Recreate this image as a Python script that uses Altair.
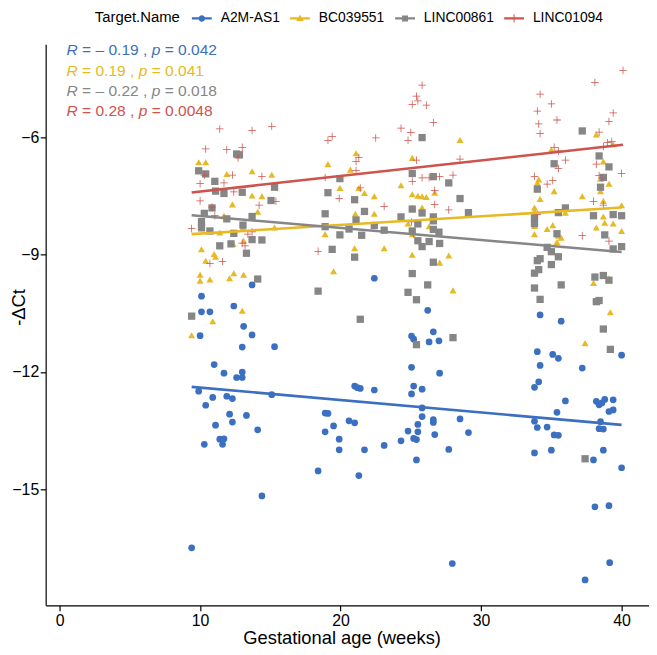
import altair as alt
import pandas as pd

targets = ["A2M-AS1", "BC039551", "LINC00861", "LINC01094"]
colors = ["#3B6FBF", "#E7B923", "#868686", "#CD534C"]

# ---- A2M-AS1 (blue circles)
a2m_x = [10.1, 10.1, 10.7, 12.4, 10.0, 11.0, 11.7, 12.6, 9.9, 10.9, 11.9, 12.3, 10.4, 12.1, 12.3, 11.1, 11.4, 11.7, 11.6, 10.3, 9.4,
         13.7, 22.4, 13.1, 13.7, 13.0, 15.3, 13.0, 13.0, 15.1, 13.3, 14.1, 14.4,
         21.0, 21.2, 21.4, 22.4, 18.9, 19.1, 20.6, 21.0, 19.5, 18.9, 19.9, 19.9, 21.7, 23.1, 18.4, 21.3,
         25.05, 25.2, 26.2, 26.6, 26.3, 25.05, 25.2, 25.8, 25.05, 25.8, 25.8, 26.6, 26.6, 25.5, 24.8, 25.5, 26.7, 25.2, 25.4, 24.3, 25.4, 27.95,
         27.0, 27.05, 28.5, 29.1, 27.7, 34.2, 35.7, 34.0, 35.1, 35.5, 34.2, 37.2, 40.0, 34.1, 33.8, 36.0, 35.4, 38.2, 38.4, 38.6, 38.8, 39.4,
         39.1, 39.4, 33.8, 34.0, 34.7, 35.2, 35.5, 38.5, 38.4, 38.7, 33.8, 35.0, 38.0, 38.7, 40.0, 38.1, 39.1, 39.15, 37.4]
a2m_y = [-10.06, -10.46, -10.46, -10.31, -11.07, -11.81, -12.03, -12.14, -12.49, -12.65, -12.62, -12.68, -12.85, -13.08, -13.28, -13.36, -13.72, -13.71, -13.85, -13.85, -16.5,
         -9.77, -9.6, -10.83, -11.05, -11.36, -11.35, -12.0, -12.14, -12.58, -13.11, -13.48, -15.17,
         -12.36, -12.4, -12.42, -12.46, -13.05, -13.06, -13.25, -13.3, -13.38, -13.53, -13.72, -13.99, -13.99, -13.88, -14.53, -14.65,
         -11.08, -11.16, -10.42, -10.97, -11.23, -11.88, -12.36, -12.44, -12.56, -12.92, -13.14, -13.22, -13.29, -13.34, -13.51, -13.53, -13.6, -13.7, -13.73, -13.76, -14.25, -16.9,
         -11.2, -12.03, -13.2, -13.55, -13.98, -10.54, -10.7, -11.48, -11.55, -11.65, -11.83, -11.9, -11.57, -12.25, -12.39, -12.74, -13.03, -12.75, -12.84, -12.79, -12.7, -12.71,
         -13.01, -12.97, -13.26, -13.42, -13.41, -13.61, -13.62, -13.27, -13.45, -13.46, -14.07, -14.0, -14.25, -14.0, -14.45, -15.45, -15.42, -16.88, -17.32]

# ---- BC039551 (yellow triangles)
bc_x = [9.9, 10.4, 11.9, 12.3, 11.7, 11.4, 10.1, 12.35, 10.1, 11.0, 11.1, 10.4, 10.0, 10.7, 10.0, 12.4, 12.1,
        10.9, 9.4, 13.0,
        13.7, 15.1, 13.7, 14.4, 14.1, 13.05, 15.3, 13.1, 13.1, 19.1, 19.95, 21.1, 20.7, 21.3, 21.7, 22.4, 21.05, 22.4, 18.9, 21.0, 23.1, 19.5,
        24.3, 25.1, 25.1, 25.5, 25.8, 26.1, 25.1, 25.8, 24.8, 26.3, 25.1, 25.1, 26.7,
        28.5, 38.2, 39.4, 35.0, 38.7, 34.1, 34.0, 35.2, 38.5, 39.1, 34.2, 37.2, 38.5, 38.7, 33.8, 33.8, 40.0, 36.0, 36.0, 38.7, 39.4, 38.8,
        38.2, 40.0, 33.8, 33.8, 34.7, 35.1, 35.5, 35.7, 35.4, 27.7, 27.05,
        28.0, 38.0, 39.1, 39.2, 37.4]
bc_y = [-6.63, -6.63, -6.93, -7.71, -8.0, -8.43, -8.33, -8.72, -8.86, -8.98, -9.05, -9.15, -9.51, -9.63, -9.66, -9.47, -9.6,
        -10.7, -11.06, -10.43,
        -6.86, -6.95, -7.48, -7.5, -7.9, -8.3, -8.3, -8.64, -9.51, -6.68, -7.29, -6.4, -6.82, -7.29, -7.42, -7.5, -7.95, -7.95, -8.47, -8.83, -8.83, -9.42,
        -7.22, -6.52, -7.45, -7.49, -7.5, -7.52, -7.79, -7.79, -8.2, -8.27, -8.47, -9.0, -7.41,
        -6.06, -5.92, -6.17, -6.31, -6.61, -7.07, -7.16, -7.37, -7.05, -7.18, -7.57, -7.5, -7.37, -7.62, -7.79, -7.88, -7.73, -7.83, -7.92, -8.02, -8.2, -8.18,
        -8.3, -8.39, -8.26, -8.47, -8.34, -8.24, -8.51, -8.56, -8.67, -9.02, -9.2,
        -9.91, -9.72, -9.61, -10.47, -11.26]

# ---- LINC00861 (grey squares)
l861_x = [9.9, 10.4, 11.05, 11.1, 11.7, 12.6, 10.85, 10.3, 11.9, 10.1, 10.1, 10.7, 12.4, 11.4, 12.2, 9.4,
          18.4, 21.4, 26.2, 24.8, 25.4, 25.4,
          12.8, 13.0, 15.3, 15.05, 19.1, 19.95, 21.0, 21.7, 18.9, 13.7, 13.05, 13.7, 14.4, 13.3, 18.9, 19.95, 20.6, 21.5, 22.4, 23.1,
          21.1, 19.4, 21.0, 25.8, 25.1, 26.6, 24.3, 25.1, 25.8, 26.6, 25.5, 25.1, 26.6, 26.6, 25.5, 25.8, 26.3, 25.1, 26.6, 14.1,
          37.2, 38.4, 35.2, 39.1, 38.7, 38.5, 34.0, 27.7, 28.5, 29.1, 33.8, 33.8, 35.5, 36.0, 38.0, 39.4, 40.0, 35.4, 38.8, 39.4, 40.0,
          34.7, 35.0, 35.5, 34.2, 34.0, 35.0, 27.05, 27.0,
          33.8, 34.1, 33.8, 34.2, 35.7, 28.0, 38.1, 38.7, 39.1, 38.2, 38.4, 38.7, 39.2, 37.4]
l861_y = [-6.85, -6.93, -7.12, -7.37, -7.43, -6.42, -7.8, -7.94, -8.08, -8.15, -8.3, -8.39, -8.45, -8.77, -8.72, -10.57,
          -9.93, -10.65, -9.77, -9.96, -10.15, -11.3,
          -6.44, -7.4, -7.27, -7.61, -7.41, -7.05, -7.59, -7.89, -7.95, -8.02, -8.24, -8.61, -8.62, -8.96, -8.28, -8.49, -8.34, -8.5, -8.25, -8.37,
          -8.11, -8.86, -9.06, -6.0, -6.92, -7.0, -8.03, -7.83, -7.93, -8.03, -8.21, -8.39, -8.13, -8.35, -8.64, -8.79, -8.66, -9.48, -9.19, -9.62,
          -5.83, -6.47, -6.67, -6.75, -7.02, -7.27, -7.32, -7.16, -7.56, -7.92, -8.05, -8.2, -7.92, -7.8, -8.0, -7.97, -8.0, -8.46, -8.49, -8.85, -8.79,
          -8.81, -8.92, -9.05, -9.1, -9.15, -9.25, -8.71, -8.42,
          -9.47, -9.38, -9.85, -10.14, -9.77, -11.12, -9.57, -9.53, -9.65, -10.2, -10.17, -10.9, -11.42, -14.22]

# ---- LINC01094 (red crosses)
l1094_x = [11.4, 10.4, 11.9, 12.3, 10.0, 11.7, 10.0, 10.85, 11.05, 9.4, 10.7, 11.6,
           12.7, 10.3, 12.4, 13.7, 13.4, 13.0, 13.2,
           25.8, 25.4, 25.1, 25.5, 26.1, 26.6, 24.3, 25.0, 24.8, 22.5, 19.4, 19.1, 15.1, 13.7, 13.0, 21.3, 21.1, 21.1, 25.4, 14.4,
           18.9, 25.1, 25.8, 26.3, 26.7, 26.7, 21.4, 19.9, 23.1, 14.2, 15.4, 18.4, 25.05, 25.2,
           40.1, 38.1, 34.2, 35.0, 34.0, 39.4, 39.1, 35.4, 34.1, 34.2, 38.4, 35.2, 35.5, 39.0, 39.3, 38.7, 36.0, 28.5, 35.5, 38.2,
           27.05, 28.0, 33.8, 35.1, 34.7, 38.4, 38.6, 40.0, 38.0, 38.7, 27.7, 34.0, 37.2, 39.1]
l1094_y = [-5.78, -6.29, -6.31, -6.96, -7.18, -7.16, -7.62, -7.78, -8.0, -8.33, -9.22, -9.17,
           -6.52, -6.96, -7.39, -8.41, -8.47, -8.7, -8.77,
           -4.66, -4.94, -5.15, -5.06, -5.17, -5.62, -5.76, -5.87, -6.07, -6.01, -5.97, -6.07, -5.71, -5.82, -6.25, -6.51, -6.61, -6.84, -6.58, -6.99,
           -7.02, -7.12, -7.03, -7.03, -7.35, -7.71, -7.29, -7.56, -7.76, -7.73, -7.63, -8.91, -8.16, -8.47,
           -4.28, -4.59, -4.89, -5.14, -5.32, -5.37, -5.59, -5.55, -5.65, -5.9, -5.86, -6.25, -6.34, -6.13, -6.1, -6.23, -6.58, -6.55, -6.79, -6.68,
           -7.0, -6.96, -6.99, -7.1, -7.19, -6.97, -7.03, -6.92, -7.63, -7.73, -7.85, -7.97, -8.51, -8.65]

# correlation labels (ggpubr stat_cor)
r_labels = ["– 0.19", "0.19", "– 0.22", "0.28"]
p_labels = ["0.042", "0.041", "0.018", "0.0048"]

x_ticks = [0, 10, 20, 30, 40]
y_ticks = [-15, -12, -9, -6]

# ---------------------------------------------------------------
rows = []
for name, xs, ys in zip(targets, [a2m_x, bc_x, l861_x, l1094_x], [a2m_y, bc_y, l861_y, l1094_y]):
    for xv, yv in zip(xs, ys):
        rows.append({"Target": name, "x": xv, "y": yv})
df = pd.DataFrame(rows)

FONT = "Liberation Sans"
PLUS = "M-1,-0.1H1V0.1H-1Z M-0.1,-1H0.1V1H-0.1Z"
point_shapes = ["circle", "triangle-up", "square", PLUS]
point_sizes = [46, 58, 38, 72]

LINE = "M-1,-0.12H1V0.12H-1Z "
legend_shapes = [
    LINE + "M0.33,0A0.33,0.33 0 1 1 -0.33,0A0.33,0.33 0 1 1 0.33,0Z",
    LINE + "M0,-0.38L0.38,0.27L-0.38,0.27Z",
    LINE + "M-0.3,-0.3H0.3V0.3H-0.3Z",
    LINE + "M-0.42,-0.05H0.42V0.05H-0.42Z M-0.05,-0.42H0.05V0.42H-0.05Z",
]

color_scale = alt.Scale(domain=targets, range=colors)
x_scale = alt.Scale(domain=[-0.99, 41.95], nice=False, zero=False)
y_scale = alt.Scale(domain=[-17.97, -3.61], nice=False, zero=False)

x_axis = alt.Axis(values=x_ticks, title="Gestational age (weeks)", labelPadding=2,
                  titleX=298.5, titleY=33, titleBaseline="middle", titleAlign="center")
y_axis = alt.Axis(values=y_ticks, title="-ΔCt", labelPadding=1.5, titleX=-27, titleY=265,
                  titleAngle=270, titleAlign="center", titleBaseline="middle")

points = alt.Chart(df).mark_point(filled=True, opacity=1, strokeWidth=0).encode(
    x=alt.X("x:Q", scale=x_scale, axis=x_axis),
    y=alt.Y("y:Q", scale=y_scale, axis=y_axis),
    color=alt.Color("Target:N", scale=color_scale, legend=None),
    shape=alt.Shape("Target:N", scale=alt.Scale(domain=targets, range=point_shapes), legend=None),
    size=alt.Size("Target:N", scale=alt.Scale(domain=targets, range=point_sizes), legend=None),
)

lines = alt.Chart(df).transform_regression("x", "y", groupby=["Target"]).mark_line(strokeWidth=2.6).encode(
    x=alt.X("x:Q", scale=x_scale),
    y=alt.Y("y:Q", scale=y_scale),
    color=alt.Color("Target:N", scale=color_scale, legend=None),
)

leg = alt.Legend(title="Target.Name", orient="none", legendX=49.5, legendY=-36, direction="horizontal",
                 titleOrient="left", titleAnchor="middle", titleBaseline="middle", titleFontSize=15,
                 titleFontWeight="normal", titleColor="black", titleFont=FONT, titlePadding=12,
                 labelFontSize=14, labelColor="black", labelFont=FONT, labelOffset=9,
                 symbolSize=400, symbolStrokeWidth=0, columnPadding=10)

legend_layer = alt.Chart(df).transform_filter("false").mark_point(
    filled=True, opacity=1, size=400, strokeWidth=0).encode(
    color=alt.Color("Target:N", scale=color_scale, legend=leg),
    shape=alt.Shape("Target:N", scale=alt.Scale(domain=targets, range=legend_shapes), legend=leg),
)

# annotation text segments
CW = {" ": 0.278, "R": 0.722, "p": 0.556, "=": 0.584, "–": 0.556, ".": 0.278, ",": 0.278}
for d in "0123456789":
    CW[d] = 0.556

def tw(s):
    return sum(CW[c] for c in s)

FS = 15.7
ann_x0 = 21
ann_y = [6.2, 26.9, 47.2, 67.9]
texts = []
for i, name in enumerate(targets):
    r, p = r_labels[i], p_labels[i]
    segs = [
        ("R", 0.0, "italic"),
        (f"= {r} ,", tw("R "), "normal"),
        ("p", tw(f"R = {r} , "), "italic"),
        (f"= {p}", tw(f"R = {r} , p "), "normal"),
    ]
    for txt, off, style in segs:
        texts.append(
            alt.Chart(pd.DataFrame({"t": [txt]})).mark_text(
                align="left", baseline="middle", font=FONT, fontSize=FS, fontStyle=style, color=colors[i]
            ).encode(x=alt.value(ann_x0 + off * FS), y=alt.value(ann_y[i]), text="t:N")
        )

chart = alt.layer(points, lines, legend_layer, *texts).resolve_scale(
    color="independent", shape="independent", size="independent"
).properties(
    width=608.6, height=566,
    padding={"left": 38, "top": 33.7, "right": 0, "bottom": 46},
    autosize=alt.AutoSizeParams(type="none"),
).configure(font=FONT).configure_view(stroke=None).configure_axis(
    grid=False, domainColor="black", domainWidth=1.2, tickColor="black", tickWidth=1.2, tickSize=5.5,
    labelColor="black", labelFontSize=16, labelFont=FONT,
    titleColor="black", titleFontSize=18.5, titleFontWeight="normal", titleFont=FONT,
)

chart.save("out.html", embed_options={"renderer": "svg", "actions": False})
